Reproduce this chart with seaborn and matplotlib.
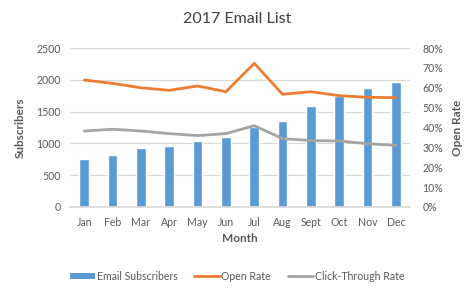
import matplotlib
matplotlib.use("Agg")
import matplotlib.pyplot as plt
import seaborn as sns
import numpy as np
import pandas as pd
from matplotlib.ticker import FuncFormatter, MultipleLocator
from matplotlib.patches import Patch
from matplotlib.lines import Line2D

months = ["Jan", "Feb", "Mar", "Apr", "May", "Jun", "Jul", "Aug", "Sept", "Oct", "Nov", "Dec"]
subscribers = [750, 813, 928, 954, 1033, 1106, 1265, 1357, 1583, 1750, 1876, 1970]
open_rate = [63.9, 62.2, 60.0, 58.7, 60.9, 58.0, 72.3, 56.7, 58.0, 56.0, 55.2, 55.0]
click_rate = [38.2, 39.1, 38.2, 36.9, 35.9, 36.9, 40.9, 34.4, 33.4, 33.2, 31.8, 31.0]

sns.set_theme(style="white")
plt.rcParams['font.family'] = ['Lato', 'DejaVu Sans']

BLUE = "#5B9BD5"
ORANGE = "#ED7D31"
GRAY = "#A5A5A5"
TXT = "#595959"

df = pd.DataFrame({"Month": months, "Subscribers": subscribers,
                   "Open": open_rate, "Click": click_rate, "pos": np.arange(len(months))})

fig = plt.figure(figsize=(4.74, 2.93), dpi=100)
ax = fig.add_axes([0.148, 0.294, 0.717, 0.542])
sns.barplot(data=df, x="Month", y="Subscribers", color=BLUE, width=0.34,
            saturation=1, ax=ax, zorder=2)
ax.set_ylim(0, 2500)
ax.yaxis.set_major_locator(MultipleLocator(500))
ax.grid(axis="y", color="#D9D9D9", linewidth=0.8, zorder=0)
ax.set_axisbelow(True)
for s in ["top", "left", "right"]:
    ax.spines[s].set_visible(False)
ax.spines["bottom"].set_color("#D9D9D9")
ax.tick_params(axis="both", length=0, labelsize=7.6, colors=TXT, pad=7)
ax.set_xlabel("Month", fontsize=8.5, fontweight="bold", color=TXT, labelpad=4)
ax.set_ylabel("Subscribers", fontsize=8.5, fontweight="bold", color=TXT, labelpad=7)

ax2 = ax.twinx()
sns.lineplot(data=df, x="pos", y="Open", color=ORANGE, linewidth=2, ax=ax2)
sns.lineplot(data=df, x="pos", y="Click", color=GRAY, linewidth=2, ax=ax2)
ax2.set_ylim(0, 80)
ax2.yaxis.set_major_locator(MultipleLocator(10))
ax2.yaxis.set_major_formatter(FuncFormatter(lambda v, p: f"{int(round(v))}%"))
for s in ["top", "left", "right", "bottom"]:
    ax2.spines[s].set_visible(False)
ax2.tick_params(axis="y", length=0, labelsize=7.6, colors=TXT, pad=9)
ax2.set_ylabel("Open Rate", fontsize=8.5, fontweight="bold", color=TXT, labelpad=6)
ax2.set_xlabel("")
ax.set_xlim(-0.5, len(months) - 0.5)

fig.suptitle("2017 Email List", x=0.5, y=0.96, fontsize=11.5, color="#404040")

handles = [Patch(facecolor=BLUE, edgecolor="none"),
           Line2D([0], [0], color=ORANGE, lw=2),
           Line2D([0], [0], color=GRAY, lw=2)]
labels = ["Email Subscribers", "Open Rate", "Click-Through Rate"]
fig.legend(handles, labels, loc="center", bbox_to_anchor=(0.5, 0.058), ncol=3,
           frameon=False, fontsize=7.6, labelcolor=TXT, handlelength=2.4,
           handleheight=0.55, handletextpad=0.15, columnspacing=1.6)

fig.savefig("out.png", dpi=100)
